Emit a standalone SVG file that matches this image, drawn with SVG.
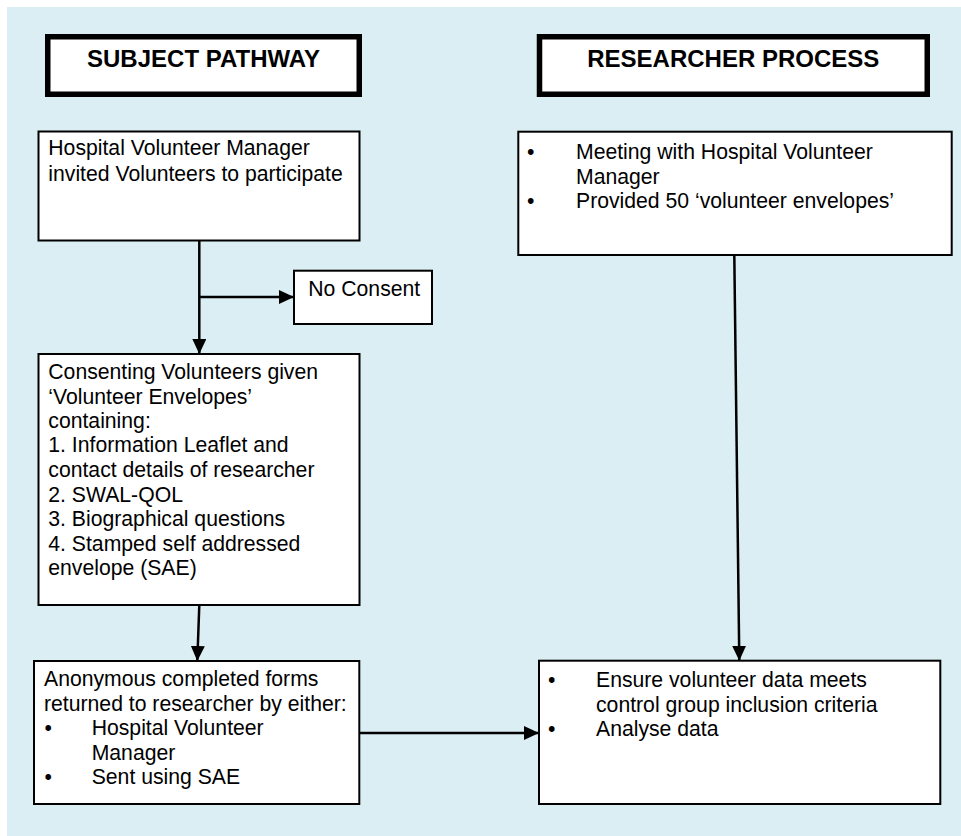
<svg xmlns="http://www.w3.org/2000/svg" width="961" height="836" viewBox="0 0 961 836">
<style>
  .box { fill: #ffffff; stroke: #000000; stroke-width: 2; }
  .hdr { fill: #ffffff; stroke: #000000; stroke-width: 5.5; }
  .t { font-family: "Liberation Sans", Arial, sans-serif; font-size: 21.2px; fill: #000000; }
  .h { font-family: "Liberation Sans", Arial, sans-serif; font-size: 24px; font-weight: bold; fill: #000000; text-anchor: middle; }
  .b { text-anchor: middle; }
  .c { fill: none; stroke: #000000; stroke-width: 2.5; }
</style>
<defs>
  <marker id="arr" markerUnits="userSpaceOnUse" markerWidth="15" markerHeight="14" refX="15" refY="7" orient="auto">
    <path d="M0,0 L15,7 L0,14 Z" fill="#000000"/>
  </marker>
</defs>
<rect x="7" y="7" width="954" height="829" fill="#DAEEF3"/>

<g id="hdr-subject">
  <rect class="hdr" x="47.75" y="36.75" width="311.5" height="57.5"/>
  <text class="h" x="203.5" y="67">SUBJECT PATHWAY</text>
</g>
<g id="hdr-researcher">
  <rect class="hdr" x="539.5" y="36.75" width="387.75" height="57.5"/>
  <text class="h" x="733.3" y="67">RESEARCHER PROCESS</text>
</g>

<g id="n-invite">
  <rect class="box" x="38.5" y="131.5" width="321" height="109"/>
  <text class="t" x="48.3" y="155">Hospital Volunteer Manager</text>
  <text class="t" x="48.3" y="180.5">invited Volunteers to participate</text>
</g>

<g id="n-noconsent">
  <rect class="box" x="294" y="270.7" width="138" height="53.3"/>
  <text class="t" x="308.3" y="296">No Consent</text>
</g>

<g id="n-consent">
  <rect class="box" x="38.5" y="354" width="321" height="251"/>
  <text class="t" x="48.3" y="379">Consenting Volunteers given</text>
  <text class="t" x="48.3" y="403.5">‘Volunteer Envelopes’</text>
  <text class="t" x="48.3" y="428">containing:</text>
  <text class="t" x="48.3" y="452.3">1. Information Leaflet and</text>
  <text class="t" x="48.3" y="476.7">contact details of researcher</text>
  <text class="t" x="48.3" y="501.5">2. SWAL-QOL</text>
  <text class="t" x="48.3" y="526">3. Biographical questions</text>
  <text class="t" x="48.3" y="550.5">4. Stamped self addressed</text>
  <text class="t" x="48.3" y="575">envelope (SAE)</text>
</g>

<g id="n-returned">
  <rect class="box" x="34" y="661" width="325.3" height="143"/>
  <text class="t" x="44" y="686">Anonymous completed forms</text>
  <text class="t" x="44" y="710.5">returned to researcher by either:</text>
  <text class="t b" x="48.3" y="735">•</text>
  <text class="t" x="91.7" y="735">Hospital Volunteer</text>
  <text class="t" x="91.7" y="759.5">Manager</text>
  <text class="t b" x="48.3" y="784">•</text>
  <text class="t" x="91.7" y="784">Sent using SAE</text>
</g>

<g id="n-meeting">
  <rect class="box" x="518.3" y="131.7" width="433.4" height="123.3"/>
  <text class="t b" x="530.7" y="159.3">•</text>
  <text class="t" x="576" y="159.3">Meeting with Hospital Volunteer</text>
  <text class="t" x="576" y="183.8">Manager</text>
  <text class="t b" x="530.7" y="208.3">•</text>
  <text class="t" x="576" y="208.3">Provided 50 ‘volunteer envelopes’</text>
</g>

<g id="n-analyse">
  <rect class="box" x="539" y="660.7" width="401.3" height="143.3"/>
  <text class="t b" x="551.7" y="687.3">•</text>
  <text class="t" x="596" y="687.3">Ensure volunteer data meets</text>
  <text class="t" x="596" y="711.8">control group inclusion criteria</text>
  <text class="t b" x="551.7" y="736.3">•</text>
  <text class="t" x="596" y="736.3">Analyse data</text>
</g>

<g id="connectors">
  <path class="c" d="M199.3,240.7 L199.3,354" marker-end="url(#arr)"/>
  <path class="c" d="M199.3,297 L294,297" marker-end="url(#arr)"/>
  <path class="c" d="M199.3,605 L197.3,661" marker-end="url(#arr)"/>
  <path class="c" d="M359.3,733 L539,733" marker-end="url(#arr)"/>
  <path class="c" d="M734.3,255 L739.3,660.7" marker-end="url(#arr)"/>
</g>
</svg>
